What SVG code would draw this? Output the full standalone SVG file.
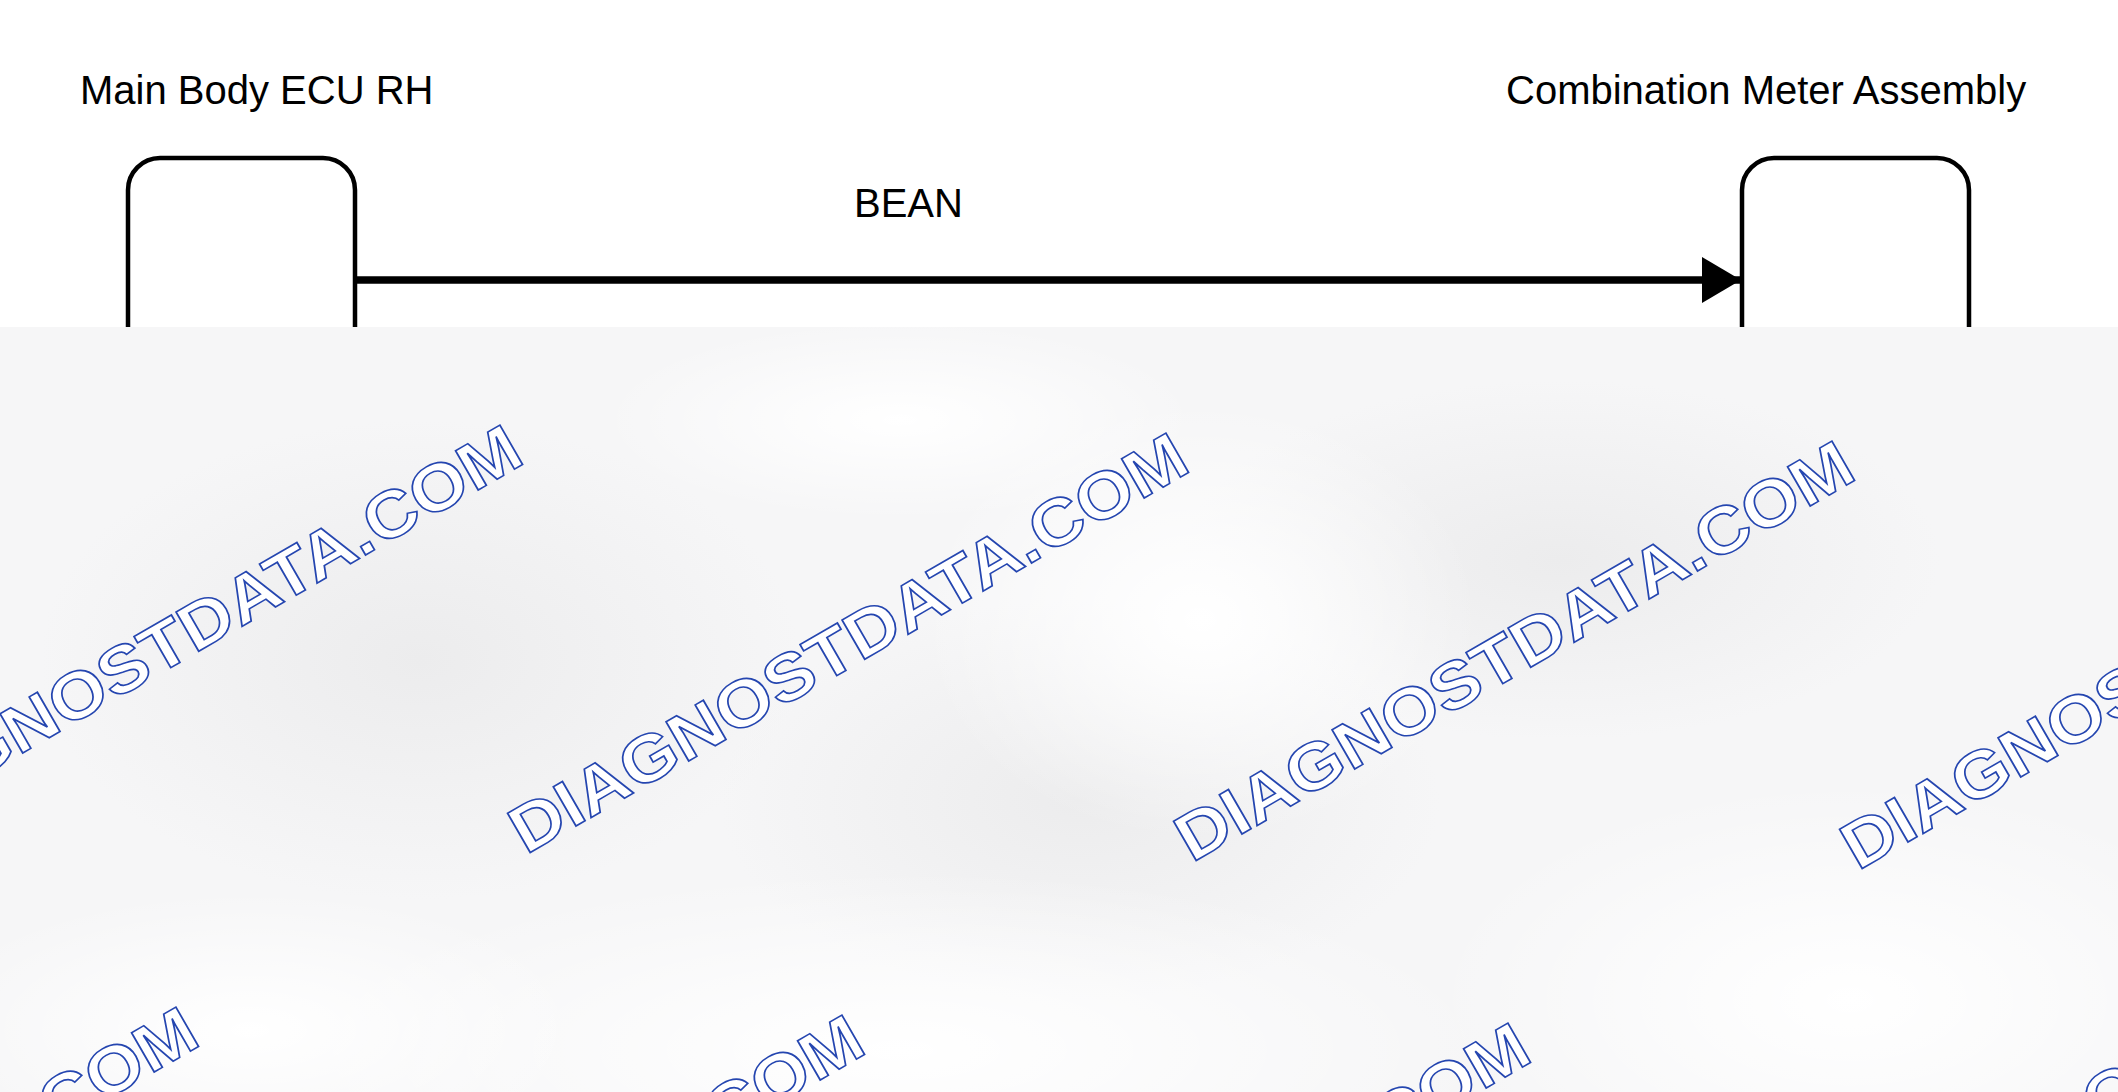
<svg xmlns="http://www.w3.org/2000/svg" width="2118" height="1092" viewBox="0 0 2118 1092">
<style>
.lbl{font-family:"Liberation Sans",Arial,sans-serif;font-size:40px;fill:#000}
.box{fill:#fff;stroke:#000;stroke-width:4.5}
.wm{font-family:"Liberation Sans",Arial,sans-serif;font-size:66px;font-weight:bold;fill:#fff;stroke:#2546b0;stroke-width:1.6}
</style>
<defs>
<marker id="arr" markerUnits="userSpaceOnUse" markerWidth="40" markerHeight="46" refX="39" refY="23" orient="auto">
<path d="M0,0 L39,23 L0,46 Z" fill="#000"/>
</marker>
<clipPath id="ov"><rect x="0" y="327" width="2118" height="765"/></clipPath>
<radialGradient id="g1"><stop offset="0" stop-color="#ececed"/><stop offset="1" stop-color="#ececed" stop-opacity="0"/></radialGradient>
<radialGradient id="g2"><stop offset="0" stop-color="#ffffff"/><stop offset="1" stop-color="#ffffff" stop-opacity="0"/></radialGradient>
</defs>
<rect width="2118" height="1092" fill="#fff"/>
<g id="node-main-body-ecu">
<text class="lbl" x="80" y="104">Main Body ECU RH</text>
<rect class="box" x="128" y="158" width="227" height="400" rx="32" ry="32"/>
</g>
<g id="node-combination-meter">
<text class="lbl" x="1506" y="104">Combination Meter Assembly</text>
<rect class="box" x="1742" y="158" width="227" height="400" rx="32" ry="32"/>
</g>
<g id="connectors">
<line x1="355" y1="280" x2="1741" y2="280" stroke="#000" stroke-width="7.5" marker-end="url(#arr)"/>
<text class="lbl" x="854" y="217">BEAN</text>
</g>
<g id="overlay" clip-path="url(#ov)">
<rect x="0" y="327" width="2118" height="765" fill="#f6f6f7"/>
<ellipse cx="420" cy="660" rx="380" ry="240" fill="url(#g1)"/>
<ellipse cx="1080" cy="800" rx="360" ry="200" fill="url(#g1)"/>
<ellipse cx="1560" cy="560" rx="380" ry="180" fill="url(#g1)"/>
<ellipse cx="1200" cy="620" rx="280" ry="220" fill="url(#g2)"/>
<ellipse cx="900" cy="1050" rx="600" ry="180" fill="url(#g2)"/>
<ellipse cx="1850" cy="1000" rx="420" ry="220" fill="url(#g2)"/>
<ellipse cx="250" cy="1030" rx="340" ry="140" fill="url(#g2)"/>
<ellipse cx="900" cy="420" rx="300" ry="100" fill="url(#g2)"/>
<g class="wm">
<text transform="translate(-140,847) rotate(-30)" textLength="770" lengthAdjust="spacingAndGlyphs">DIAGNOSTDATA.COM</text>
<text transform="translate(526,855) rotate(-30)" textLength="770" lengthAdjust="spacingAndGlyphs">DIAGNOSTDATA.COM</text>
<text transform="translate(1192,863) rotate(-30)" textLength="770" lengthAdjust="spacingAndGlyphs">DIAGNOSTDATA.COM</text>
<text transform="translate(1858,871) rotate(-30)" textLength="770" lengthAdjust="spacingAndGlyphs">DIAGNOSTDATA.COM</text>
<text transform="translate(-464,1429) rotate(-30)" textLength="770" lengthAdjust="spacingAndGlyphs">DIAGNOSTDATA.COM</text>
<text transform="translate(202,1437) rotate(-30)" textLength="770" lengthAdjust="spacingAndGlyphs">DIAGNOSTDATA.COM</text>
<text transform="translate(868,1445) rotate(-30)" textLength="770" lengthAdjust="spacingAndGlyphs">DIAGNOSTDATA.COM</text>
<text transform="translate(1534,1453) rotate(-30)" textLength="770" lengthAdjust="spacingAndGlyphs">DIAGNOSTDATA.COM</text>
</g>
</g>
</svg>
